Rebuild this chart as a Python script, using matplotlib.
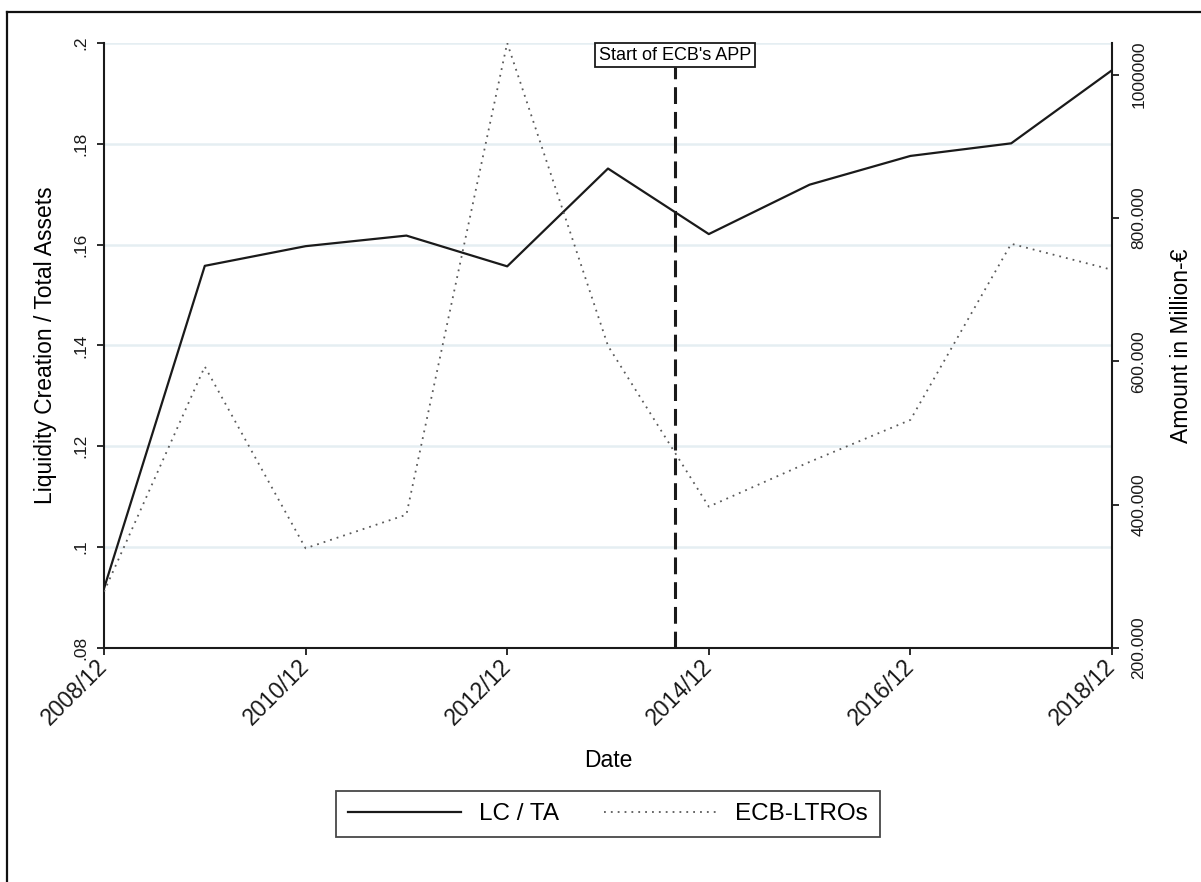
import matplotlib
matplotlib.use("Agg")
import matplotlib.pyplot as plt
from matplotlib.lines import Line2D

plt.rcParams['font.family'] = ['Liberation Sans', 'DejaVu Sans']

# ---- data ----
years = [0, 1, 2, 3, 4, 5, 6, 7, 8, 9, 10]          # years after 2008/12
x_tick_pos = [0, 2, 4, 6, 8, 10]
x_tick_labels = ["2008/12", "2010/12", "2012/12", "2014/12", "2016/12", "2018/12"]
lc_ta = [0.0918, 0.1558, 0.1597, 0.1618, 0.1557, 0.1751,
         0.1621, 0.1719, 0.1776, 0.1801, 0.1946]
ecb_ltro = [278600, 592600, 339100, 386000, 1044000, 621500,
            397200, 459600, 518200, 763900, 727600]
app_start = 5 + 8 / 12                              # 2014/08
left_ticks = [0.08, 0.10, 0.12, 0.14, 0.16, 0.18, 0.20]
left_tick_labels = [".08", ".1", ".12", ".14", ".16", ".18", ".2"]
right_ticks = [200000, 400000, 600000, 800000, 1000000]
right_tick_labels = ["200.000", "400.000", "600.000", "800.000", "1000000"]

W, H = 1201, 882
fig = plt.figure(figsize=(W / 100, H / 100), dpi=100)
fig.patch.set_facecolor("white")

L, R, T, B = 104, 1112, 43, 648
ax = fig.add_axes([L / W, 1 - B / H, (R - L) / W, (B - T) / H])
ax2 = ax.twinx()

ax.set_xlim(0, 10)
ax.set_ylim(0.08, 0.20)
ax2.set_ylim(200000, max(ecb_ltro))

# grid
ax.set_yticks(left_ticks)
ax.set_yticklabels(left_tick_labels)
ax.yaxis.grid(True, color="#e5eef2", linewidth=1.8)
ax.set_axisbelow(True)

# lines
l1, = ax.plot(years, lc_ta, color="#1a1a1a", linewidth=1.6, label="LC / TA", zorder=3)
l2, = ax2.plot(years, ecb_ltro, color="#5a5a5a", linewidth=1.3,
               linestyle=(0, (1, 2.8)), label="ECB-LTROs", zorder=3)

# APP marker
ax.axvline(app_start, ymin=0, ymax=(B - 66.7) / (B - T), color="#1a1a1a",
           linewidth=2.2, linestyle=(0, (5.5, 2.6)), zorder=4)
ax.text(app_start, 1 - 12 / (B - T), "Start of ECB's APP",
        transform=ax.get_xaxis_transform(), ha="center", va="center",
        fontsize=13, zorder=5,
        bbox=dict(boxstyle="square,pad=0.22", fc="white", ec="#1a1a1a", lw=1.3))

# spines
for a in (ax, ax2):
    a.spines["top"].set_visible(False)
ax.spines["right"].set_visible(False)
ax2.spines["left"].set_visible(False)
ax2.spines["bottom"].set_visible(False)
for s in ("left", "bottom"):
    ax.spines[s].set_linewidth(1.5)
    ax.spines[s].set_color("#1a1a1a")
ax2.spines["right"].set_linewidth(1.5)
ax2.spines["right"].set_color("#1a1a1a")

# x ticks
ax.set_xticks(x_tick_pos)
ax.set_xticklabels(x_tick_labels, rotation=45, ha="right", va="center",
                   rotation_mode="anchor", fontsize=16.5)
ax.tick_params(axis="x", direction="out", length=5, width=1.3, pad=6, colors="#1a1a1a")
ax.tick_params(axis="y", direction="out", length=5, width=1.3, pad=6,
               labelsize=12.5, labelrotation=90, colors="#1a1a1a")
for t in ax.get_yticklabels():
    t.set_va("center")

ax2.set_yticks(right_ticks)
ax2.set_yticklabels(right_tick_labels)
ax2.tick_params(axis="y", direction="out", length=5, width=1.3, pad=9,
                labelsize=12.5, labelrotation=90, colors="#1a1a1a")
for t in ax2.get_yticklabels():
    t.set_va("center")

# axis titles
ax.set_xlabel("Date", fontsize=16.5)
ax.xaxis.set_label_coords(0.5, (B - 749) / (B - T))
ax.set_ylabel("Liquidity Creation / Total Assets", fontsize=16.5)
ax.yaxis.set_label_coords((57 - L) / (R - L), 0.5)
ax2.set_ylabel("Amount in Million-€", fontsize=16.5)
ax2.yaxis.set_label_coords((1170 - L) / (R - L), 0.5)

# legend
leg = fig.legend([l1, l2], ["LC / TA", "ECB-LTROs"], loc="center",
                 bbox_to_anchor=(608 / W, 1 - 814 / H), ncol=2, fontsize=17.5,
                 frameon=True, fancybox=False, edgecolor="#1a1a1a",
                 handlelength=4.65, handletextpad=0.74, columnspacing=1.85,
                 borderpad=0.5, borderaxespad=0)
leg.get_frame().set_linewidth(1.3)

# outer frame
fig.add_artist(Line2D([7 / W, 7 / W], [0, 1 - 12 / H], transform=fig.transFigure,
                      color="#111111", linewidth=1.6))
fig.add_artist(Line2D([7 / W, 1], [1 - 12 / H, 1 - 12 / H], transform=fig.transFigure,
                      color="#111111", linewidth=1.6))

fig.savefig("out.png", dpi=100)
